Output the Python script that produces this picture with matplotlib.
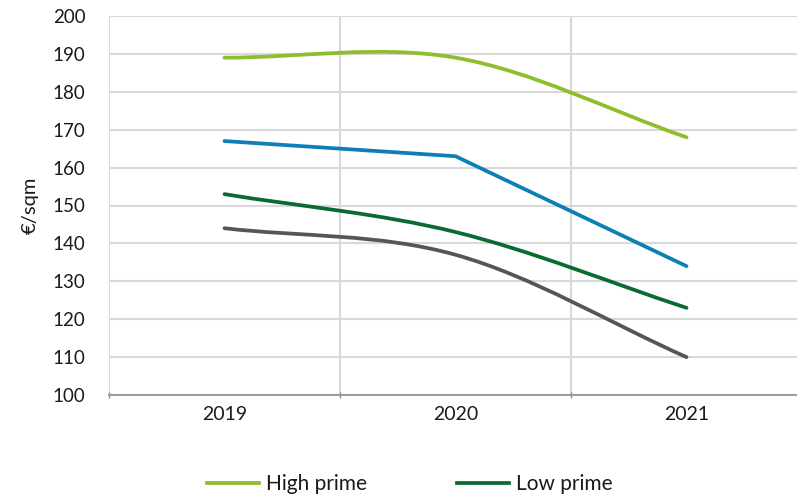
import matplotlib
matplotlib.use("Agg")
import matplotlib.pyplot as plt
from matplotlib.path import Path
from matplotlib.patches import PathPatch
from matplotlib.lines import Line2D
import numpy as np

plt.rcParams['font.family'] = ['Lato', 'DejaVu Sans']

years = ["2019", "2020", "2021"]
high_prime = [189, 189, 168]
mid_prime = [167, 163, 134]
low_prime = [153, 143, 123]
secondary = [144, 137, 110]

C_HIGH = "#8CBF2B"
C_MID = "#0C7FB6"
C_LOW = "#0A6B31"
C_SEC = "#55565B"
GRID = "#D9D9D9"
TEXT = "#1A1A1A"


def smooth_path(xs, ys):
    """Cubic Bezier through every point (Catmull-Rom style tangents)."""
    pts = np.column_stack([xs, ys]).astype(float)
    n = len(pts)
    tang = []
    for i in range(n):
        if i == 0:
            tang.append(pts[1] - pts[0])
        elif i == n - 1:
            tang.append(pts[-1] - pts[-2])
        else:
            tang.append((pts[i + 1] - pts[i - 1]) / 2)
    verts = [pts[0]]
    codes = [Path.MOVETO]
    for i in range(n - 1):
        verts += [pts[i] + tang[i] / 3, pts[i + 1] - tang[i + 1] / 3, pts[i + 1]]
        codes += [Path.CURVE4] * 3
    return Path(verts, codes)


fig = plt.figure(figsize=(7.97, 4.99), dpi=100)
ax = fig.add_axes([109 / 797, 1 - 395 / 499, 693 / 797, 379 / 499])

x = np.arange(len(years))

for series, color in [(high_prime, C_HIGH), (low_prime, C_LOW), (secondary, C_SEC)]:
    ax.add_patch(PathPatch(smooth_path(x, series), facecolor="none", edgecolor=color,
                           lw=2.7, capstyle="round", joinstyle="round", zorder=3))
ax.plot(x, mid_prime, color=C_MID, lw=2.7, solid_capstyle="round",
        solid_joinstyle="round", zorder=3)

ax.set_xlim(-0.5, 2.5)
ax.set_ylim(100, 200)
ax.set_yticks(np.arange(100, 201, 10))
ax.set_xticks(x)
ax.set_xticklabels(years)
ax.set_xticks([-0.5, 0.5, 1.5], minor=True)

ax.grid(axis="y", color=GRID, lw=1.5, zorder=0)
ax.grid(axis="x", which="minor", color=GRID, lw=1.5, zorder=0)
ax.grid(axis="x", which="major", visible=False)

for side in ["top", "right", "left"]:
    ax.spines[side].set_visible(False)
ax.spines["bottom"].set_color("#8C8C8C")
ax.spines["bottom"].set_linewidth(1.2)

ax.tick_params(axis="y", length=0, pad=17, labelsize=13.5, labelcolor=TEXT)
ax.tick_params(axis="x", which="major", length=0, pad=8, labelsize=14, labelcolor=TEXT)
ax.tick_params(axis="x", which="minor", length=5, direction="inout", color="#8C8C8C", width=1)

ax.set_ylabel("€/sqm", fontsize=14.5, color=TEXT, labelpad=10)

handles = [Line2D([], [], color=C_HIGH, lw=2.7), Line2D([], [], color=C_LOW, lw=2.7)]
fig.legend(handles, ["High prime", "Low prime"], loc="center", ncol=2,
           bbox_to_anchor=(410 / 797, 1 - 484 / 499), frameon=False, fontsize=15,
           handlelength=2.5, handletextpad=0.35, columnspacing=4.3, borderpad=0,
           labelcolor=TEXT)

fig.savefig("out.png", dpi=100)
